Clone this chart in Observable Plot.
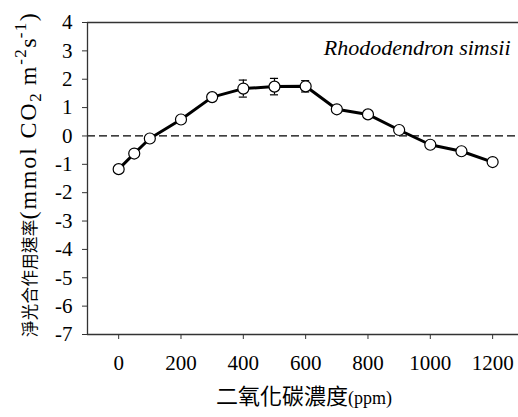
<!DOCTYPE html>
<html><head><meta charset="utf-8">
<script src="https://cdn.jsdelivr.net/npm/d3@7"></script>
<script src="https://cdn.jsdelivr.net/npm/@observablehq/plot@0.6"></script>
<style>body{margin:0;background:#fff}</style>
</head><body><div id="chart"></div>
<script>
const co2 = [0, 50, 100, 200, 300, 400, 500, 600, 700, 800, 900, 1000, 1100, 1200];
const rate = [-1.17, -0.62, -0.09, 0.58, 1.37, 1.67, 1.74, 1.75, 0.94, 0.76, 0.21, -0.31, -0.54, -0.92];
const err = [0, 0, 0, 0, 0, 0.30, 0.29, 0.20, 0, 0, 0, 0, 0, 0];
const xTicks = [0, 200, 400, 600, 800, 1000, 1200];
const yTicks = [-7, -6, -5, -4, -3, -2, -1, 0, 1, 2, 3, 4];
const speciesName = "Rhododendron simsii";
const xLabelCJK = "二氧化碳濃度";
const xLabelUnit = "(ppm)";
const yLabelCJK = "淨光合作用速率";

const data = co2.map((x, i) => ({x, y: rate[i], e: err[i]}));
const bars = data.filter(d => d.e > 0);
const capHalf = 13;

const serif = "'Liberation Serif', 'Times New Roman', serif";
const cjk = "'Noto Sans CJK TC', sans-serif";
const axisColor = "#333";

const chart = Plot.plot({
  width: 518,
  height: 417,
  marginLeft: 87,
  marginRight: 0,
  marginTop: 22,
  marginBottom: 83,
  style: {fontFamily: serif, fontSize: "21px", color: "#000", background: "#fff"},
  x: {domain: [-100, 1283]},
  y: {domain: [-7, 4]},
  marks: [
    Plot.ruleY([0], {stroke: "#000", strokeWidth: 1.2, strokeDasharray: "8,4"}),
    Plot.ruleY([4], {stroke: axisColor, strokeWidth: 1.3}),
    Plot.ruleY([-7], {stroke: axisColor, strokeWidth: 1.3}),
    Plot.ruleX([-100], {stroke: axisColor, strokeWidth: 1.3}),
    Plot.axisX({ticks: xTicks, tickSize: 5, tickPadding: 16, tickFormat: d => String(d), label: null, fontSize: 21, fontFamily: serif, stroke: axisColor}),
    Plot.axisY({ticks: yTicks, tickSize: 5, tickPadding: 10, tickFormat: d => String(d), label: null, fontSize: 21, fontFamily: serif, stroke: axisColor}),
    Plot.ruleX(bars, {x: "x", y1: d => d.y - d.e, y2: d => d.y + d.e, stroke: "#000", strokeWidth: 1.2}),
    Plot.ruleY(bars, {y: d => d.y + d.e, x1: d => d.x - capHalf, x2: d => d.x + capHalf, stroke: "#000", strokeWidth: 1.2}),
    Plot.ruleY(bars, {y: d => d.y - d.e, x1: d => d.x - capHalf, x2: d => d.x + capHalf, stroke: "#000", strokeWidth: 1.2}),
    Plot.line(data, {x: "x", y: "y", stroke: "#000", strokeWidth: 3}),
    Plot.dot(data, {x: "x", y: "y", r: 5.5, fill: "#fff", stroke: "#000", strokeWidth: 1.2}),
    Plot.text([speciesName], {frameAnchor: "top-right", lineAnchor: "middle", dx: -8, dy: 25, text: d => d, textAnchor: "end", fontSize: 22, fontStyle: "italic", fontFamily: serif, fill: "#000"})
  ]
});
document.getElementById("chart").appendChild(chart);

const svg = d3.select(chart);
const yl = svg.append("text")
  .attr("transform", "translate(36,337) rotate(-90)")
  .attr("text-anchor", "start")
  .attr("fill", "#000")
  .attr("font-family", serif)
  .attr("font-size", 24);
yl.append("tspan").attr("font-family", cjk).attr("font-size", 16.5).attr("letter-spacing", 0.3).text(yLabelCJK);
yl.append("tspan").attr("font-size", 24).attr("letter-spacing", 1.8).text("(mmol CO");
yl.append("tspan").attr("font-size", 17).attr("dy", 5).text("2");
yl.append("tspan").attr("font-size", 24).attr("dy", -5).attr("letter-spacing", 1.8).text(" m");
yl.append("tspan").attr("font-size", 17).attr("dy", -10).attr("letter-spacing", 1.5).text("-2");
yl.append("tspan").attr("font-size", 24).attr("dy", 10).text("s");
yl.append("tspan").attr("font-size", 17).attr("dy", -10).attr("letter-spacing", 1.5).text("-1");
yl.append("tspan").attr("font-size", 24).attr("dy", 10).text(")");

const xl = svg.append("text")
  .attr("x", 304).attr("y", 404)
  .attr("text-anchor", "middle")
  .attr("fill", "#000");
xl.append("tspan").attr("font-family", cjk).attr("font-size", 22).text(xLabelCJK);
xl.append("tspan").attr("font-family", serif).attr("font-size", 18).text(xLabelUnit);
</script>
</body></html>
